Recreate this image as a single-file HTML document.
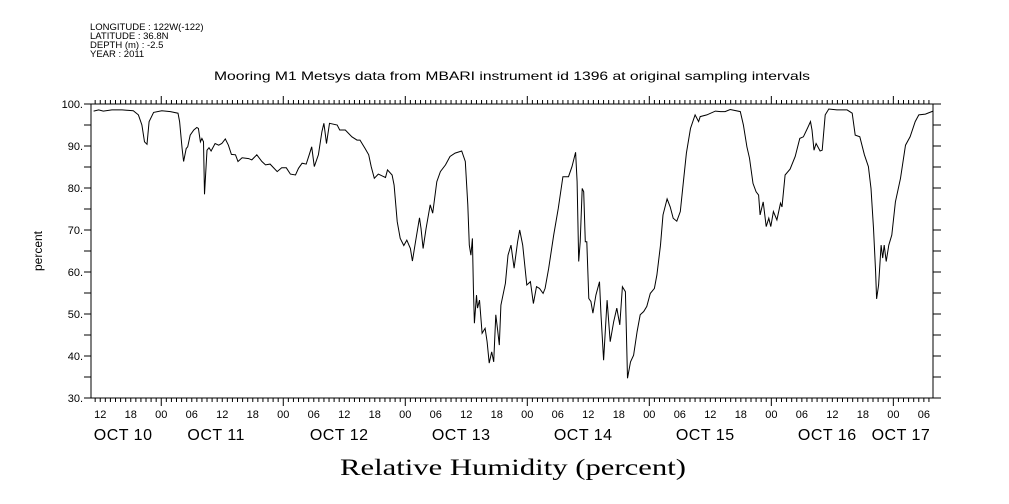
<!DOCTYPE html>
<html><head><meta charset="utf-8"><style>
html,body{margin:0;padding:0;background:#fff;}
svg{display:block;font-family:"Liberation Sans",sans-serif;}
</style></head><body>
<svg id="chart" width="1009" height="504" viewBox="0 0 1009 504">
<g font-size="9.5" fill="#000">
<text x="90" y="30">LONGITUDE : 122W(-122)</text>
<text x="90" y="39">LATITUDE : 36.8N</text>
<text x="90" y="48">DEPTH (m) : -2.5</text>
<text x="90" y="57">YEAR : 2011</text>
</g>
<text x="512" y="80" font-size="12" text-anchor="middle" textLength="596" lengthAdjust="spacingAndGlyphs">Mooring M1 Metsys data from MBARI instrument id 1396 at original sampling intervals</text>
<text x="0" y="0" font-size="12" text-anchor="middle" transform="translate(42,251) rotate(-90)">percent</text>
<text x="513" y="475" font-family="Liberation Serif, serif" font-size="23" text-anchor="middle" textLength="346" lengthAdjust="spacingAndGlyphs">Relative Humidity (percent)</text>
<g id="axes"></g>
<path id="line" fill="none" stroke="#000" stroke-width="1"/>
</svg>
<script>
const hours=[10.7,11.7,12.6,14.3,16.3,18.5,19.5,20.2,20.7,21.2,21.6,22.5,24.1,25.8,27.3,27.6,28.1,28.4,28.9,29.2,29.7,30.4,31.0,31.3,31.7,32.0,32.3,32.5,32.7,33.0,33.4,33.8,34.6,35.3,35.9,36.6,37.2,37.8,38.6,39.1,39.9,41.2,41.8,42.8,43.8,44.5,45.4,46.8,47.7,48.6,49.4,50.4,51.0,51.7,52.5,53.1,53.6,54.1,54.9,55.6,56.0,56.5,57.1,58.6,59.1,60.2,61.5,62.5,63.1,64.1,64.8,65.3,65.9,66.7,68.1,68.5,69.4,69.8,70.4,71.0,71.7,72.3,73.0,73.4,74.0,74.8,75.1,75.5,76.1,76.9,77.4,78.2,78.9,79.9,80.8,81.8,83.1,83.8,84.3,84.6,84.9,85.2,85.4,85.6,86.0,86.2,86.6,87.1,87.7,88.1,88.5,89.0,89.4,89.8,90.2,90.5,90.8,91.7,92.2,92.8,93.4,94.1,94.5,95.1,95.9,96.6,97.2,97.8,98.4,99.1,99.5,100.2,101.2,102.1,103.0,104.1,104.8,105.5,105.8,106.1,106.4,106.8,107.1,107.4,107.7,108.1,108.5,108.9,109.5,110.2,110.5,111.0,111.7,112.3,113.0,113.6,114.2,114.7,115.3,115.7,116.3,116.9,117.6,118.2,118.9,119.5,120.2,121.0,121.5,122.2,122.7,123.5,124.1,124.7,125.4,126.1,126.7,127.3,128.1,129.0,129.7,130.0,131.3,133.0,134.0,134.9,135.9,137.9,138.5,139.2,139.7,140.4,141.0,141.5,141.8,142.4,143.0,143.5,143.9,144.4,145.1,145.8,146.1,146.7,147.7,148.7,149.6,150.3,151.1,151.7,152.0,152.4,152.8,153.6,154.0,154.6,155.3,156.9,158.9,159.9,160.5,161.4,162.3,163.1,163.6,164.1,164.5,164.7,165.1,165.6,165.9,166.2,166.6,167.1,167.7,168.4,169.4,170.4,171.3,172.3,173.0,174.3,175.8];
const humidity=[98.3,98.6,98.3,98.6,98.6,98.4,97.4,95,91,90.4,95.8,98,98.4,98.2,97.8,95.8,89.4,86.3,89.4,89.8,92.6,93.8,94.4,94.2,91,91.8,91,78.5,82.7,89,89.6,88.8,90.6,90.2,90.6,91.7,90.2,88,87.9,86.3,87.2,87,86.7,87.9,86.3,85.5,85.7,83.9,84.8,84.8,83.3,83.1,84.7,85.9,85.7,87.9,89.8,85.1,87.9,93.4,95.4,90.6,95.4,95,93.8,93.8,92.2,91.4,91.4,89.4,87.9,85.1,82.3,83.3,82.5,84.3,83.1,80.7,72,68,66.3,67.6,65.6,62.6,67.2,72.9,70.4,65.6,70.4,76,74,81.5,83.9,85.5,87.5,88.3,88.8,86.3,76,66.4,64,68,56.1,47.8,54.5,51.4,53.3,45.4,46.6,43.4,38.3,41,38.6,49.8,45.8,42.6,52.1,57.3,64,66.4,60.9,67.2,70,66.4,56.9,57.7,52.5,56.5,56.1,54.9,56.1,60.9,68.8,75.2,82.7,82.7,85.1,88.5,81.5,62.5,67.2,79.9,79.1,67.2,67.2,53.7,53,50.2,54.5,57.7,49.8,39,53.3,43.4,48.2,51.4,47.4,56.5,55.3,34.7,38.6,40.2,45.8,49.8,50.6,51.8,54.9,56.1,59.3,66.4,73.6,77.4,75.5,72.8,72.1,74.4,81.5,88.3,94.2,97.4,95.8,97,97.4,98.3,98.2,98.2,98.7,98.2,95,89.8,87.1,81.1,79.1,78.3,73.6,76.7,70.8,72.8,70.8,74.4,72.4,76.4,75.5,83.1,84.5,87.5,91.8,92.2,94.2,95.8,93.8,89,90.6,88.8,89,97.4,98.8,98.6,98.6,97.8,92.6,92.2,87.9,85.1,79.9,70.4,60.1,53.6,56.9,66.4,63.3,66.4,62.5,66.4,68.8,76.7,82.3,90.2,92.2,95.8,97.4,97.6,98.3];
const yTicks=[30,40,50,60,70,80,90,100];
const yTickLabels=["30.","40.","50.","60.","70.","80.","90.","100."];
const hourLabels=["12","18","00","06"];
const dayLabels=["OCT 10","OCT 11","OCT 12","OCT 13","OCT 14","OCT 15","OCT 16","OCT 17"];
const dayLabelHours=[16.5,34.8,59,83,107,131,155,169.5];

const X0=91,X1=933,Y0=104,Y1=398;
const H0=10.18,H1=175.8;
const xs=h=>X0+(h-H0)*(X1-X0)/(H1-H0);
const ys=v=>Y1-(v-30)*(Y1-Y0)/70;
const NS="http://www.w3.org/2000/svg";
const ax=document.getElementById('axes');
function mk(tag,attrs){const e=document.createElementNS(NS,tag);for(const k in attrs)e.setAttribute(k,attrs[k]);return e;}
const frame=mk('rect',{x:X0,y:Y0,width:X1-X0,height:Y1-Y0,fill:'none',stroke:'#000','stroke-width':1});


ax.appendChild(frame);
for(let v=30;v<=100;v+=5){
  const y=ys(v);
  const tl=mk('line',{x1:X0-7,x2:X0,y1:y,y2:y,stroke:'#000'});
  
  
  ax.appendChild(tl);
  const tr=mk('line',{x1:X1,x2:X1+8,y1:y,y2:y,stroke:'#000'});
  
  
  ax.appendChild(tr);
}
yTicks.forEach((v,i)=>{
  const t=mk('text',{x:X0-8,y:ys(v)+4,'font-size':11,'text-anchor':'end'});
  t.textContent=yTickLabels[i];
  
  
  ax.appendChild(t);
});
for(let h=Math.ceil(H0);h<=H1;h++){
  const x=xs(h);const mid=h%24===0;const len=mid?8:4;
  const tt=mk('line',{x1:x,x2:x,y1:Y0-len,y2:Y0,stroke:'#000'});
  
  
  ax.appendChild(tt);
  const tb=mk('line',{x1:x,x2:x,y1:Y1,y2:Y1+len,stroke:'#000'});
  
  
  ax.appendChild(tb);
  if(h%6===0){
    const t=mk('text',{x:x,y:418,'font-size':11,'text-anchor':'middle'});
    t.textContent=hourLabels[((h%24)/6+2)%4];
    
    
    ax.appendChild(t);
  }
}
dayLabels.forEach((d,i)=>{
  const t=mk('text',{x:xs(dayLabelHours[i]),y:440,'font-size':16,'text-anchor':'middle','letter-spacing':'0.5'});
  t.textContent=d;
  
  
  ax.appendChild(t);
});
let d='';
hours.forEach((h,i)=>{d+=(i?'L':'M')+xs(h).toFixed(1)+' '+ys(humidity[i]).toFixed(1);});
document.getElementById('line').setAttribute('d',d);
</script>
</body></html>
